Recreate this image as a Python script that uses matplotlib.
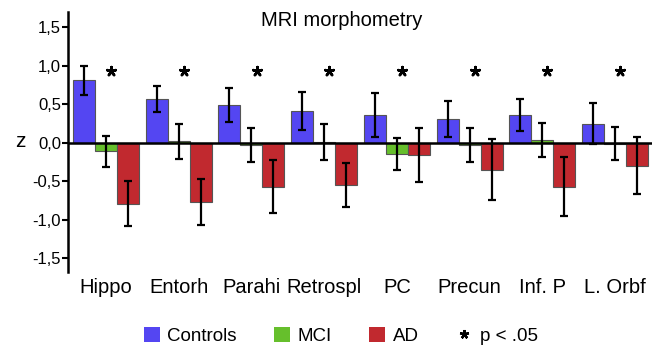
import matplotlib
matplotlib.use("Agg")
import matplotlib.pyplot as plt
import numpy as np
from matplotlib.patches import Patch
from matplotlib.lines import Line2D

# regions and group z-scores
regions = ["Hippo", "Entorh", "Parahi", "Retrospl", "PC", "Precun", "Inf. P", "L. Orbf"]
controls = [0.81, 0.57, 0.49, 0.41, 0.36, 0.31, 0.36, 0.25]
controls_err = [0.19, 0.17, 0.22, 0.25, 0.29, 0.23, 0.21, 0.27]
mci = [-0.11, 0.02, -0.03, 0.01, -0.15, -0.03, 0.04, -0.01]
mci_err = [0.20, 0.23, 0.22, 0.23, 0.21, 0.22, 0.22, 0.21]
ad = [-0.79, -0.77, -0.57, -0.55, -0.16, -0.35, -0.57, -0.30]
ad_err = [0.29, 0.30, 0.34, 0.29, 0.35, 0.40, 0.38, 0.37]
significant = [True, True, True, True, True, True, True, True]
yticks = [1.5, 1.0, 0.5, 0.0, -0.5, -1.0, -1.5]

plt.rcParams['font.family'] = ['Liberation Sans', 'DejaVu Sans']

colors = {"Controls": "#5446f2", "MCI": "#66bf2c", "AD": "#c1292f"}

fig = plt.figure(figsize=(6.68, 3.5), dpi=100)
ax = fig.add_axes([0.1018, 0.2229, 0.8743, 0.7429])

x = np.arange(len(regions))
w = 0.3026
series = [("Controls", controls, controls_err, -w),
          ("MCI", mci, mci_err, 0.0),
          ("AD", ad, ad_err, w)]

for name, vals, errs, off in series:
    ax.bar(x + off, vals, width=w, color=colors[name], edgecolor="#555555",
           linewidth=0.8, zorder=2)
for name, vals, errs, off in series:
    ax.errorbar(x + off, vals, yerr=errs, fmt="none", ecolor="black",
                elinewidth=1.6, capsize=2.8, capthick=1.6, zorder=4)

ax.axhline(0, color="black", linewidth=1.8, zorder=3)

# significance stars
star = (5, 2, 0)
star_x = x[np.array(significant)] + 0.07
ax.scatter(star_x, np.full(len(star_x), 0.93), marker=star, s=40,
           color="black", linewidths=1.9, zorder=5)

ax.set_xlim(-0.523, 7.51)
ax.set_ylim(-1.68, 1.70)
ax.set_yticks(yticks)
ax.set_yticklabels([f"{v:.1f}".replace(".", ",") for v in yticks], fontsize=12)
ax.set_xticks(x)
ax.set_xticklabels(regions, fontsize=14.5)
ax.tick_params(axis="x", length=0, pad=4)
ax.tick_params(axis="y", length=4, width=1.5, pad=1)

for s in ["top", "right", "bottom"]:
    ax.spines[s].set_visible(False)
ax.spines["left"].set_linewidth(1.8)

ax.set_ylabel("z", rotation=0, fontsize=15, labelpad=9, va="center")

fig.text(0.511, 0.926, "MRI morphometry", fontsize=14.5, ha="center", va="baseline")

handles = [Patch(facecolor=colors[n], edgecolor="none", label=n) for n in ["Controls", "MCI", "AD"]]
handles.append(Line2D([], [], marker=star, color="black", linestyle="none",
                      markersize=6.5, markeredgewidth=1.7, label="p < .05"))
fig.legend(handles=handles, loc="center", bbox_to_anchor=(0.51, 0.04), ncol=4,
           frameon=False, fontsize=13.5, handlelength=0.85, handleheight=0.85,
           handletextpad=0.4, columnspacing=2.0, borderpad=0)

fig.savefig("out.png", dpi=100)
